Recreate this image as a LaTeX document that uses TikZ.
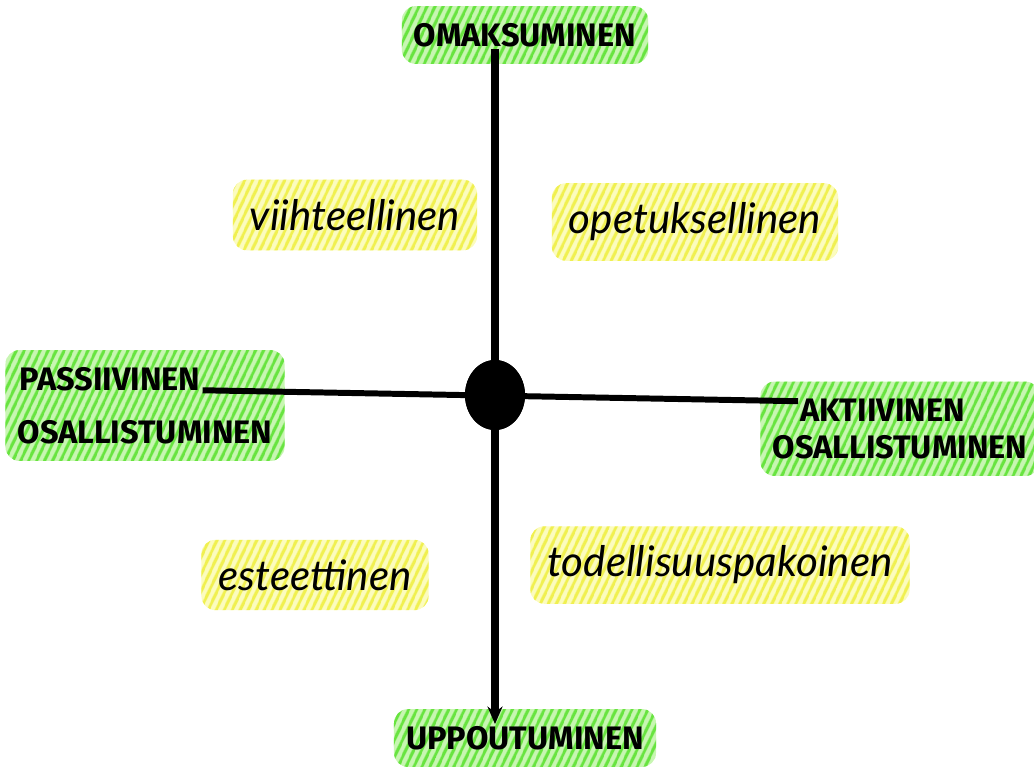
\documentclass[tikz,border=0pt]{standalone}
\usepackage{fontspec}
\setmainfont{Fira Sans}
\newfontfamily\capsfont{Fira Sans}
\newfontfamily\handfont{Lato}
\usepackage{xcolor}
\usetikzlibrary{positioning,arrows.meta,shapes.geometric,fit,backgrounds,patterns.meta}

\definecolor{hlgreenfill}{RGB}{200,246,178}
\definecolor{hlgreenline}{RGB}{104,228,64}
\definecolor{hlyellowfill}{RGB}{252,252,190}
\definecolor{hlyellowline}{RGB}{240,240,80}

\begin{document}
\begin{tikzpicture}[
    axislabel/.style={
        font=\capsfont\bfseries\fontsize{18.5}{20}\selectfont,
        inner sep=1pt
    },
    quadlabel/.style={
        font=\handfont\itshape\fontsize{24}{26}\selectfont,
        inner sep=1pt
    },
    hlgreen/.style={
        rectangle,
        rounded corners=8pt,
        inner xsep=0.2cm,
        inner ysep=0.3cm,
        preaction={fill=hlgreenfill},
        pattern={Lines[angle=65,distance=4pt,line width=2pt]},
        pattern color=hlgreenline
    },
    hlyellow/.style={
        rectangle,
        rounded corners=8pt,
        inner xsep=0.3cm,
        inner ysep=0.35cm,
        preaction={fill=hlyellowfill},
        pattern={Lines[angle=65,distance=4pt,line width=2pt]},
        pattern color=hlyellowline
    },
    axis/.style={
        line width=4pt,
        draw=black
    },
    hub/.style={
        ellipse,
        fill=black,
        minimum width=1.2cm,
        minimum height=1.4cm,
        inner sep=0pt
    }
]
\useasboundingbox (-9.9,-7.48) rectangle (10.78,7.9);

% Centre
\node[hub] (hub) at (0,0) {};

% Axis ends
\node[axislabel] (omak) at (0.6,7.2) {OMAKSUMINEN};
\node[axislabel] (uppo) at (0.6,-6.86) {UPPOUTUMINEN};
\node[axislabel] (passiv) at (-7.7,0.32) {PASSIIVINEN};
\node[axislabel] (passivb) at (-7.0,-0.74) {OSALLISTUMINEN};
\node[axislabel] (aktiv) at (7.75,-0.3) {AKTIIVINEN};
\node[axislabel] (aktivb) at (8.1,-1.04) {OSALLISTUMINEN};

% Quadrants
\node[quadlabel] (viiht) at (-2.8,3.6) {viihteellinen};
\node[quadlabel] (opet) at (4.0,3.46) {opetuksellinen};
\node[quadlabel] (esteet) at (-3.6,-3.6) {esteettinen};
\node[quadlabel] (todel) at (4.5,-3.4) {todellisuuspakoinen};

% Highlights
\begin{scope}[on background layer]
\node[hlgreen, fit=(omak)] {};
\node[hlgreen, fit=(uppo)] {};
\node[hlgreen, fit=(passiv)(passivb)] {};
\node[hlgreen, fit=(aktiv)(aktivb)] {};
\node[hlyellow, fit=(viiht)] {};
\node[hlyellow, fit=(opet)] {};
\node[hlyellow, fit=(esteet)] {};
\node[hlyellow, fit=(todel)] {};
\end{scope}

% Axes
\draw[axis, -{Stealth[length=3.5mm,width=3mm]}] (omak.south -| hub) -- (uppo.north -| hub);
\draw[axis, line width=3.4pt] (passiv.base east) -- ([yshift=5pt]aktiv.west);
\node[hub] at (hub) {};

\end{tikzpicture}
\end{document}
